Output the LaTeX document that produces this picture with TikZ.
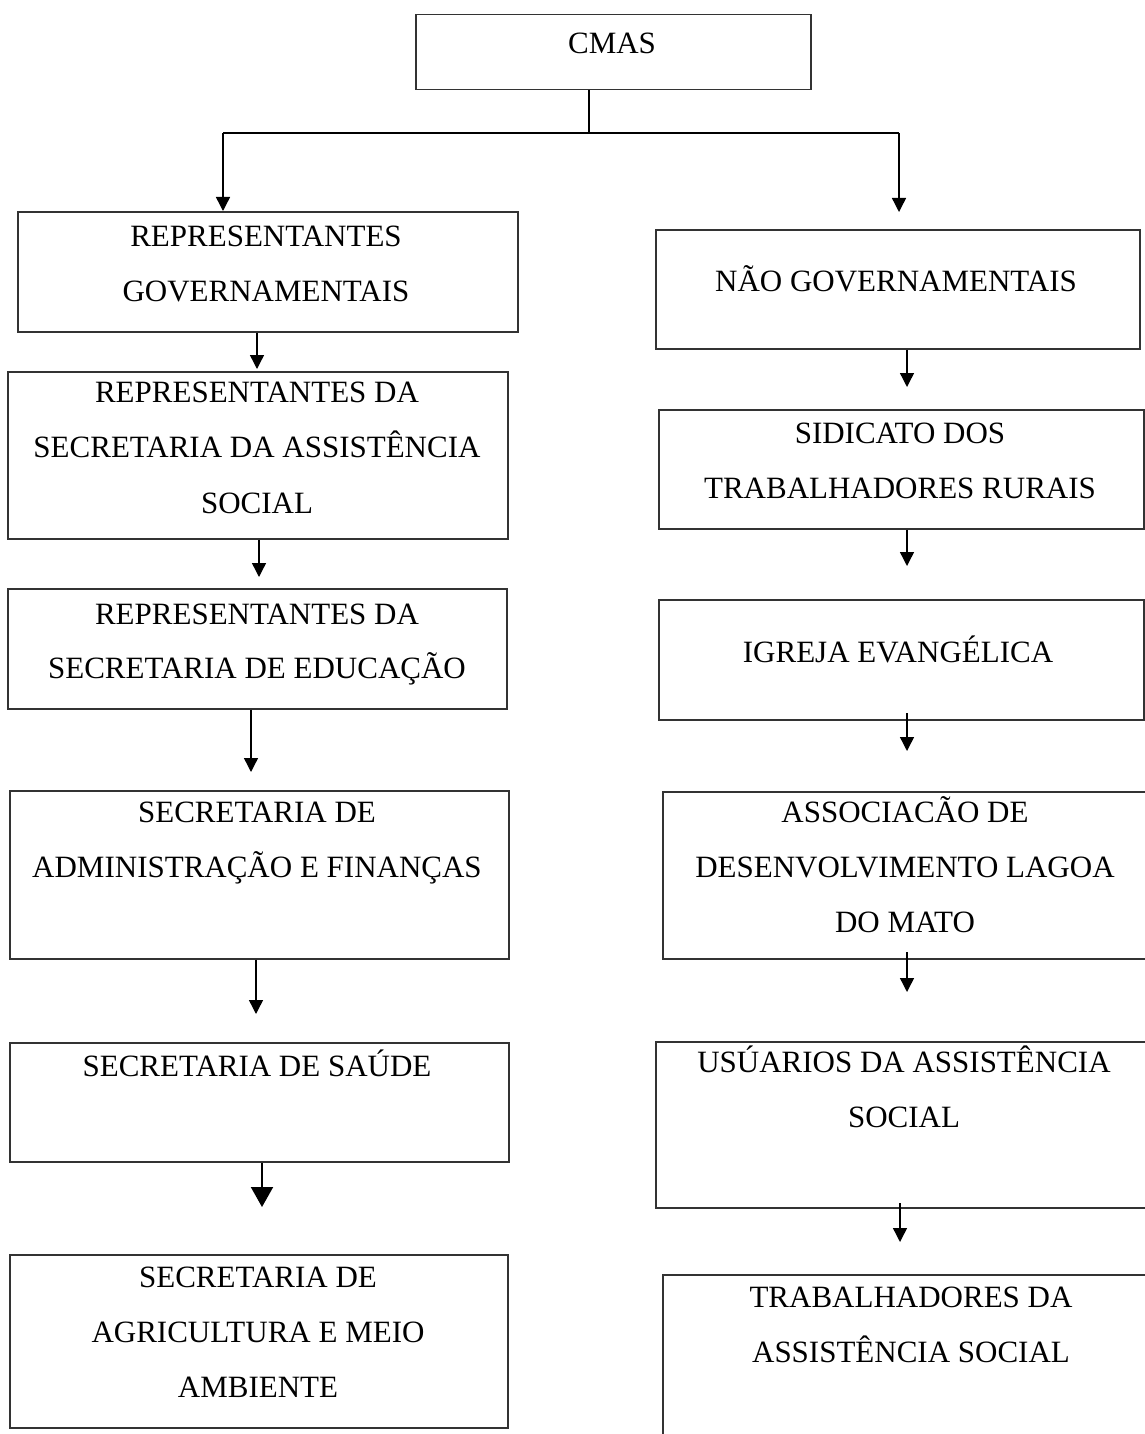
\documentclass[tikz,border=0pt]{standalone}
\usepackage{fontspec}
\setmainfont{Liberation Serif}
\usetikzlibrary{arrows.meta}
\tikzset{
  box/.style={draw=black!80, line width=1.5pt, inner sep=0pt, anchor=north west},
  txt/.style={font=\fontsize{31}{37}\selectfont, inner sep=0pt, anchor=base},
  link/.style={draw=black, line width=1.4pt},
  conn/.style={link, -{Triangle[length=14pt,width=14pt]}},
  bigconn/.style={draw=black, line width=2pt, -{Triangle[length=20pt,width=22pt]}},
}
\newcommand\bx[5]{\node[box, minimum width={#4-#2}, minimum height={#5-#3}] (#1) at (#2,#3) {};}
\newcommand\tl[3]{\node[txt] (#1) at (#2) {#3};}
\begin{document}
\begin{tikzpicture}[x=1pt,y=-1pt]
\useasboundingbox (0,0) rectangle (1145,1434);
% boxes
\bx{cmas}{415}{14}{810}{89}
\bx{g1}{17}{211}{517}{331}
\bx{n1}{655}{229}{1139}{348}
\bx{g2}{7}{371}{507}{538}
\bx{n2}{658}{409}{1143}{528}
\bx{g3}{7}{588}{506}{708}
\bx{n3}{658}{599}{1143}{719}
\bx{g4}{9}{790}{508}{958}
\bx{n4}{662}{791}{1150}{958}
\bx{g5}{9}{1042}{508}{1161}
\bx{n5}{655}{1041}{1150}{1207}
\bx{g6}{9}{1254}{507}{1427}
\bx{n6}{662}{1274}{1150}{1445}
% texts
\tl{tcmas}{612,54}{CMAS}
\tl{tg1a}{266,246}{REPRESENTANTES}
\tl{tg1b}{266,301}{GOVERNAMENTAIS}
\tl{tg2a}{257,402}{REPRESENTANTES DA}
\tl{tg2b}{257,457}{SECRETARIA DA ASSISTÊNCIA}
\tl{tg2c}{257,513}{SOCIAL}
\tl{tg3a}{257,624}{REPRESENTANTES DA}
\tl{tg3b}{257,678}{SECRETARIA DE EDUCAÇÃO}
\tl{tg4a}{257,822}{SECRETARIA DE}
\tl{tg4b}{257,877}{ADMINISTRAÇÃO E FINANÇAS}
\tl{tg5a}{257,1076}{SECRETARIA DE SAÚDE}
\tl{tg6a}{258,1287}{SECRETARIA DE}
\tl{tg6b}{258,1342}{AGRICULTURA E MEIO}
\tl{tg6c}{258,1397}{AMBIENTE}
\tl{tn1a}{896,291}{NÃO GOVERNAMENTAIS}
\tl{tn2a}{900,443}{SIDICATO DOS}
\tl{tn2b}{900,498}{TRABALHADORES RURAIS}
\tl{tn3a}{898,662}{IGREJA EVANGÉLICA}
\tl{tn4a}{905,822}{ASSOCIACÃO DE}
\tl{tn4b}{905,877}{DESENVOLVIMENTO LAGOA}
\tl{tn4c}{905,932}{DO MATO}
\tl{tn5a}{904,1072}{USÚARIOS DA ASSISTÊNCIA}
\tl{tn5b}{904,1127}{SOCIAL}
\tl{tn6a}{911,1307}{TRABALHADORES DA}
\tl{tn6b}{911,1362}{ASSISTÊNCIA SOCIAL}
% top fork
\coordinate (j) at (589,133);
\coordinate (jl) at (223,133);
\coordinate (jr) at (899,133);
\coordinate (tr) at (899,212);
\draw[link] (cmas.south -| j) -- (j);
\draw[link] (jl) -- (jr);
\draw[conn] (jl) -- (g1.north -| jl);
\draw[conn] (jr) -- (tr);
% left column
\coordinate (a1) at (257,369);
\coordinate (a2) at (259,577);
\coordinate (a3) at (251,772);
\coordinate (a4) at (256,1014);
\coordinate (a5) at (262,1207);
\draw[conn] (g1.south -| a1) -- (a1);
\draw[conn] (g2.south -| a2) -- (a2);
\draw[conn] (g3.south -| a3) -- (a3);
\draw[conn] (g4.south -| a4) -- (a4);
\draw[bigconn] (g5.south -| a5) -- (a5);
% right column
\coordinate (b1) at (907,387);
\coordinate (b2) at (907,566);
\coordinate (b3s) at (907,713);
\coordinate (b3) at (907,751);
\coordinate (b4s) at (907,952);
\coordinate (b4) at (907,992);
\coordinate (b5s) at (900,1203);
\coordinate (b5) at (900,1242);
\draw[conn] (n1.south -| b1) -- (b1);
\draw[conn] (n2.south -| b2) -- (b2);
\draw[conn] (b3s) -- (b3);
\draw[conn] (b4s) -- (b4);
\draw[conn] (b5s) -- (b5);
\end{tikzpicture}
\end{document}
